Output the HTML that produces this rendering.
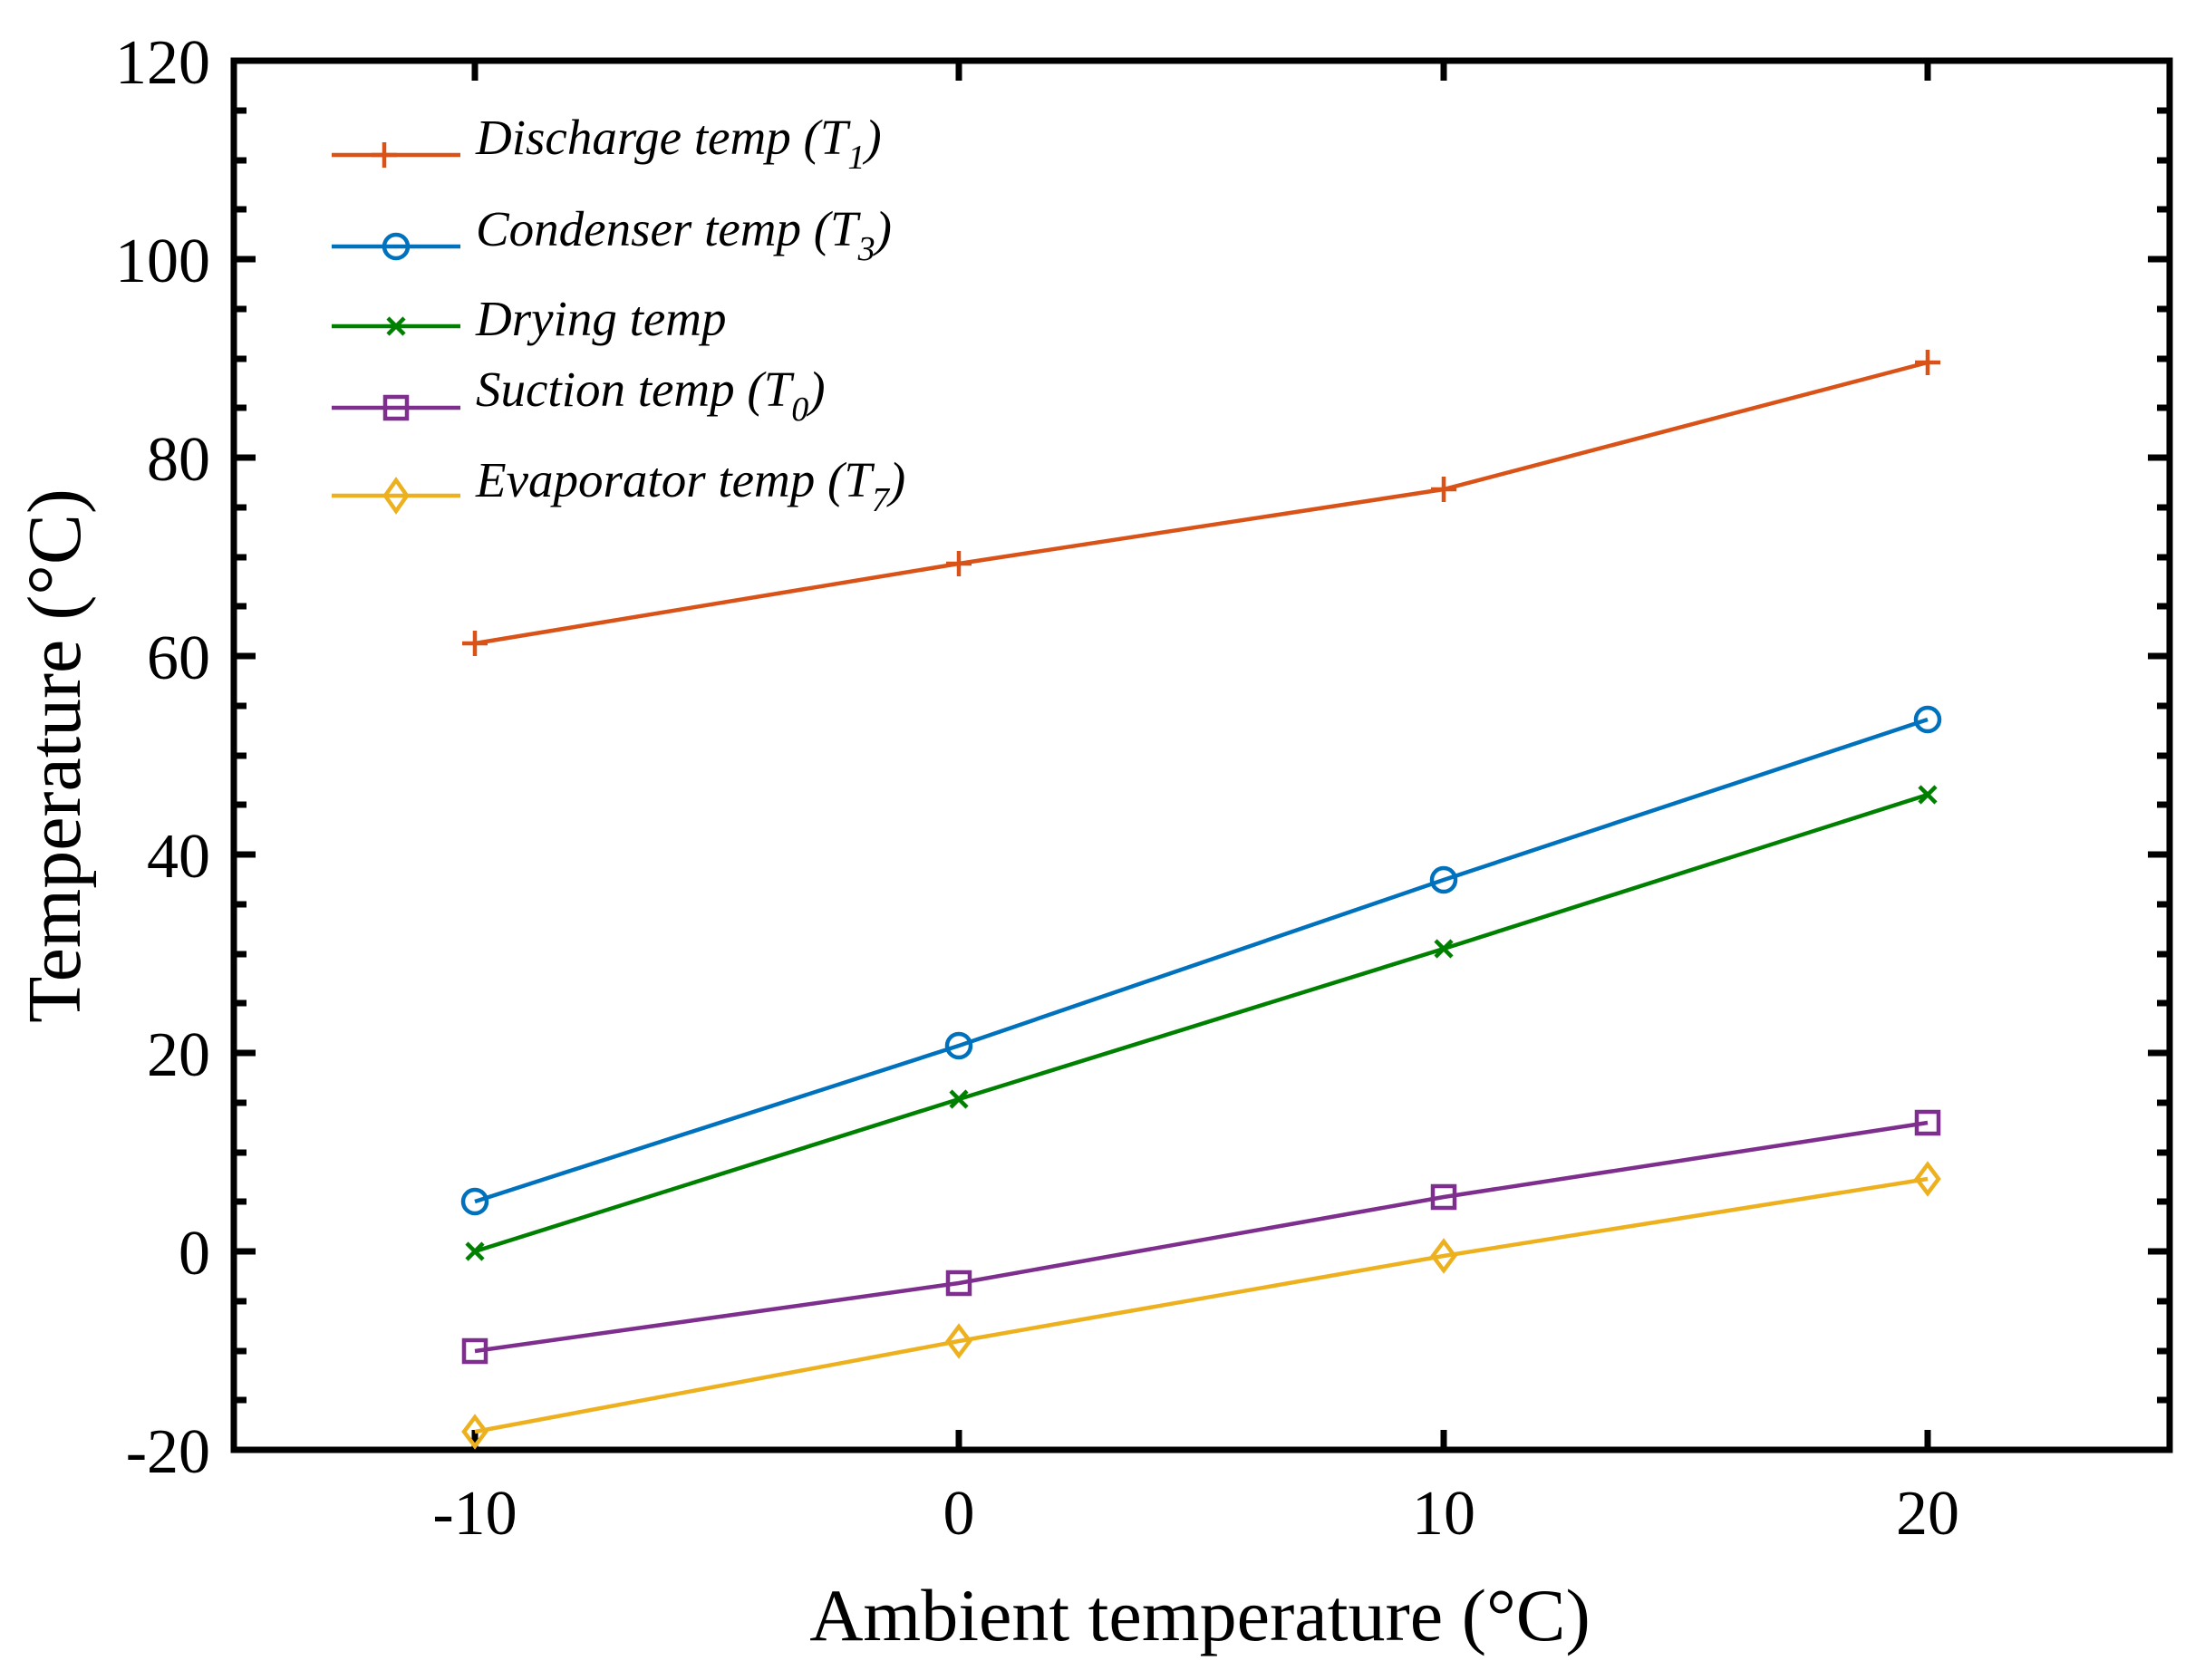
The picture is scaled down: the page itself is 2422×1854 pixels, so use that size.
<!DOCTYPE html>
<html><head><meta charset="utf-8"><style>body{margin:0;background:#fff}svg{display:block}</style></head><body>
<svg width="2422" height="1854" viewBox="0 0 2422 1854" xmlns="http://www.w3.org/2000/svg">
<rect width="2422" height="1854" fill="#fff"/>
<g id="ticks" stroke="#000" stroke-width="7">
<path d="M258 122h14M258 177h14M258 231h14M258 341h14M258 396h14M258 450h14M258 560h14M258 615h14M258 669h14M258 779h14M258 834h14M258 888h14M258 998h14M258 1053h14M258 1107h14M258 1217h14M258 1272h14M258 1326h14M258 1436h14M258 1491h14M258 1545h14"/>
<path d="M2394 122h-14M2394 177h-14M2394 231h-14M2394 341h-14M2394 396h-14M2394 450h-14M2394 560h-14M2394 615h-14M2394 669h-14M2394 779h-14M2394 834h-14M2394 888h-14M2394 998h-14M2394 1053h-14M2394 1107h-14M2394 1217h-14M2394 1272h-14M2394 1326h-14M2394 1436h-14M2394 1491h-14M2394 1545h-14"/>
<path d="M258 286h24M258 505h24M258 724h24M258 943h24M258 1162h24M258 1381h24"/>
<path d="M2394 286h-24M2394 505h-24M2394 724h-24M2394 943h-24M2394 1162h-24M2394 1381h-24"/>
<path d="M524 1600v-22M1058 1600v-22M1593 1600v-22M2127 1600v-22M524 67v22M1058 67v22M1593 67v22M2127 67v22"/>
</g>
<rect x="258" y="67" width="2136" height="1533" fill="none" stroke="#000" stroke-width="7"/>
<g font-family="Liberation Serif, serif" font-size="70" fill="#000" text-anchor="end">
<text x="232" y="92">120</text><text x="232" y="311">100</text><text x="232" y="530">80</text><text x="232" y="749">60</text><text x="232" y="968">40</text><text x="232" y="1187">20</text><text x="232" y="1406">0</text><text x="232" y="1625">-20</text>
</g>
<g font-family="Liberation Serif, serif" font-size="70" fill="#000" text-anchor="middle">
<text x="524" y="1693">-10</text><text x="1058" y="1693">0</text><text x="1593" y="1693">10</text><text x="2127" y="1693">20</text>
<text x="1324" y="1810" font-size="82">Ambient temperature (°C)</text>
<text transform="translate(88,834) rotate(-90)" font-size="84">Temperature (°C)</text>
</g>
<g fill="none" stroke-width="4.5">
<g stroke="#D95319"><polyline points="524,710 1058,622 1593,540 2127,400"/>
<path d="M510 710h28M524 696v28M1044 622h28M1058 608v28M1579 540h28M1593 526v28M2113 400h28M2127 386v28M410 171h28M424 157v28"/><path d="M366 171h142"/></g>
<g stroke="#0072BD"><polyline points="524,1326 1058,1154 1593,971 2127,794"/>
<circle cx="524" cy="1326" r="13"/><circle cx="1058" cy="1154" r="13"/><circle cx="1593" cy="971" r="13"/><circle cx="2127" cy="794" r="13"/><path d="M366 272h142"/><circle cx="437" cy="272" r="13"/></g>
<g stroke="#008000"><polyline points="524,1381 1058,1213 1593,1047 2127,877"/>
<path d="M515 1372l18 18M533 1372l-18 18M1049 1204l18 18M1067 1204l-18 18M1584 1038l18 18M1602 1038l-18 18M2118 868l18 18M2136 868l-18 18M366 360h142M428 351l18 18M446 351l-18 18"/></g>
<g stroke="#7E2F8E"><polyline points="524,1491 1058,1416 1593,1321 2127,1239"/>
<rect x="512" y="1479" width="24" height="24"/><rect x="1046" y="1404" width="24" height="24"/><rect x="1581" y="1309" width="24" height="24"/><rect x="2115" y="1227" width="24" height="24"/><path d="M366 450h142"/><rect x="425" y="438" width="24" height="24"/></g>
<g stroke="#EDB120"><polyline points="524,1580 1058,1480 1593,1386 2127,1301"/>
<path d="M524 1564l12 16l-12 16l-12-16zM1058 1464l12 16l-12 16l-12-16zM1593 1370l12 16l-12 16l-12-16zM2127 1285l12 16l-12 16l-12-16zM366 547h142M437 530l12 17l-12 17l-12-17z"/></g>
</g>
<g font-family="Liberation Serif, serif" font-style="italic" font-size="55" fill="#000">
<text x="525" y="170">Discharge temp (T<tspan font-size="38" dy="16">1</tspan><tspan dy="-16">)</tspan></text>
<text x="525" y="271">Condenser temp (T<tspan font-size="38" dy="16">3</tspan><tspan dy="-16">)</tspan></text>
<text x="525" y="370">Drying temp</text>
<text x="525" y="448">Suction temp (T<tspan font-size="38" dy="16">0</tspan><tspan dy="-16">)</tspan></text>
<text x="525" y="548">Evaporator temp (T<tspan font-size="38" dy="16">7</tspan><tspan dy="-16">)</tspan></text>
</g>
</svg>
</body></html>
